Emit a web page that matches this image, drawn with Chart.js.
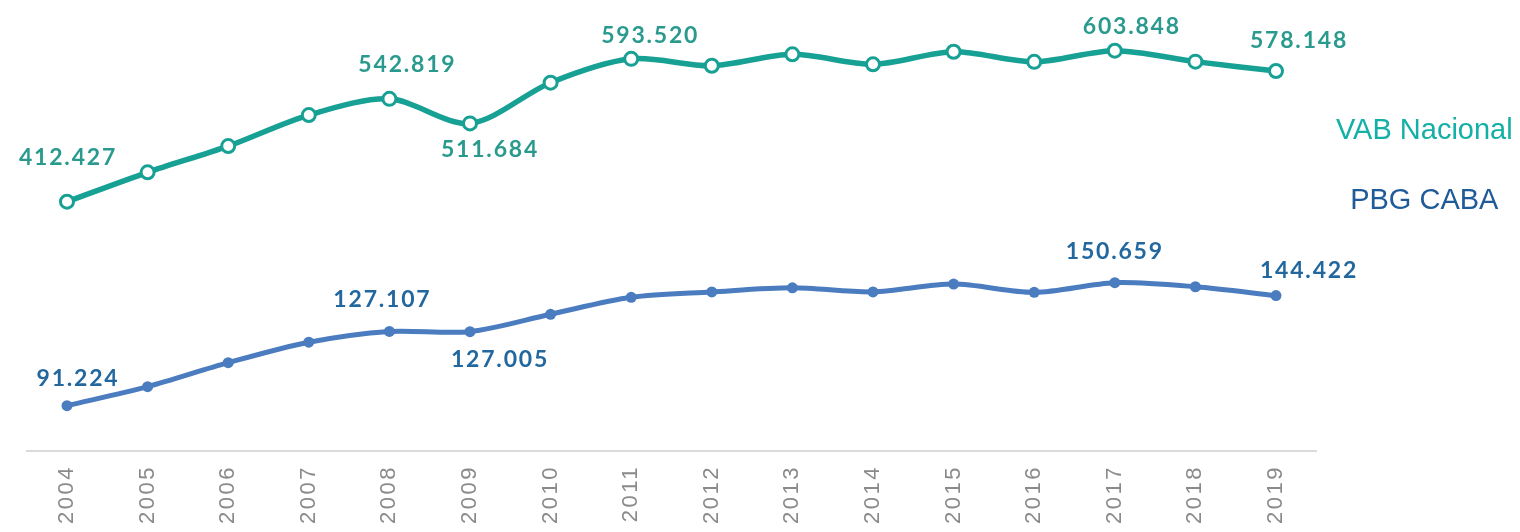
<!DOCTYPE html>
<html>
<head>
<meta charset="utf-8">
<script src="https://cdn.jsdelivr.net/npm/chart.js@4.4.1/dist/chart.umd.min.js"></script>
<style>
html,body{margin:0;padding:0;background:#ffffff;}
#wrap{position:relative;width:1520px;height:532px;}
</style>
</head>
<body>
<div id="wrap"><canvas id="c" width="1520" height="532"></canvas></div>
<script>
// ---- data ----
const years = ['2004','2005','2006','2007','2008','2009','2010','2011','2012','2013','2014','2015','2016','2017','2018','2019'];
const vabNacional = [412427, 449700, 483000, 522300, 542819, 511684, 563300, 593520, 584800, 599300, 586600, 602500, 589700, 603848, 590000, 578148];
const pbgCaba = [91224, 100400, 112000, 121900, 127107, 127005, 135400, 143600, 146200, 148200, 146200, 150000, 146000, 150659, 148700, 144422];
const seriesNames = ['VAB Nacional', 'PBG CABA'];
const vabLabelIdx = [0, 4, 5, 7, 13, 15];
const pbgLabelIdx = [0, 4, 5, 13, 15];

// ---- label placement (offsets relative to each point, in px) ----
const vabLabelOffset = {0:[0,-37], 4:[17,-27], 5:[19,34], 7:[18,-16], 13:[16,-17], 15:[22,-23]};
const pbgLabelOffset = {0:[10,-20], 4:[-8,-24], 5:[29,35], 13:[-1,-24], 15:[32,-18]};

const GREEN = '#17a094';
const GREEN_TXT = '#2a9a8e';
const BLUE = '#4a7cbf';
const BLUE_TXT = '#22689f';

function fmt(v){
  return Math.round(v).toString().replace(/\B(?=(\d{3})+(?!\d))/g, '.');
}

const tickSpacing = {
  id: 'tickSpacing',
  beforeDraw(chart){ chart.ctx.letterSpacing = '2.5px'; }
};

const valueLabels = {
  id: 'valueLabels',
  afterDatasetsDraw(chart){
    const ctx = chart.ctx;
    ctx.save();
    ctx.letterSpacing = '1.8px';
    ctx.font = 'bold 23px Lato, "Open Sans", sans-serif';
    ctx.textAlign = 'center';
    ctx.textBaseline = 'alphabetic';
    const sets = [
      {meta: chart.getDatasetMeta(0), data: vabNacional, idx: vabLabelIdx, off: vabLabelOffset, color: GREEN_TXT},
      {meta: chart.getDatasetMeta(1), data: pbgCaba, idx: pbgLabelIdx, off: pbgLabelOffset, color: BLUE_TXT}
    ];
    sets.forEach(s => {
      ctx.fillStyle = s.color;
      s.idx.forEach(i => {
        const p = s.meta.data[i];
        const o = s.off[i] || [0,-20];
        ctx.fillText(fmt(s.data[i]), p.x + o[0] + 1, p.y + o[1]);
      });
    });
    ctx.restore();
  }
};

const sideLegend = {
  id: 'sideLegend',
  afterDraw(chart){
    const ctx = chart.ctx;
    ctx.save();
    ctx.letterSpacing = '0px';
    ctx.font = '29px "Liberation Sans", Arial, sans-serif';
    ctx.textAlign = 'center';
    ctx.textBaseline = 'alphabetic';
    const x = chart.chartArea.right + 108;
    ctx.fillStyle = '#13b0a5';
    ctx.fillText(seriesNames[0], x, 139);
    ctx.fillStyle = '#1f5a99';
    ctx.fillText(seriesNames[1], x, 209);
    ctx.restore();
  }
};

new Chart(document.getElementById('c'), {
  type: 'line',
  data: {
    labels: years,
    datasets: [
      {
        label: seriesNames[0],
        data: vabNacional,
        yAxisID: 'yG',
        borderColor: GREEN,
        borderWidth: 5.5,
        tension: 0.3,
        pointRadius: 6.5,
        pointBorderWidth: 3,
        pointBackgroundColor: '#ffffff',
        pointBorderColor: GREEN,
        fill: false
      },
      {
        label: seriesNames[1],
        data: pbgCaba,
        yAxisID: 'yB',
        borderColor: BLUE,
        borderWidth: 5,
        tension: 0.3,
        pointRadius: 5.5,
        pointBorderWidth: 0,
        pointBackgroundColor: BLUE,
        pointBorderColor: BLUE,
        fill: false
      }
    ]
  },
  options: {
    responsive: false,
    animation: false,
    devicePixelRatio: 1,
    layout: { padding: { left: 26.7, right: 203.7, top: 20, bottom: 0 } },
    plugins: { legend: { display: false }, tooltip: { enabled: false } },
    scales: {
      x: {
        offset: true,
        grid: { display: false, drawTicks: false },
        border: { display: true, color: '#dadada', width: 2 },
        ticks: {
          minRotation: 90, maxRotation: 90, padding: 14,
          color: '#8a8a8a',
          font: { family: '"Liberation Sans", Arial, sans-serif', size: 22 }
        },
        afterFit(s){ s.height = 81; }
      },
      yG: { display: false, min: 96380, max: 642780 },
      yB: { display: false, min: 69330, max: 277590 }
    }
  },
  plugins: [tickSpacing, valueLabels, sideLegend]
});
</script>
</body>
</html>
